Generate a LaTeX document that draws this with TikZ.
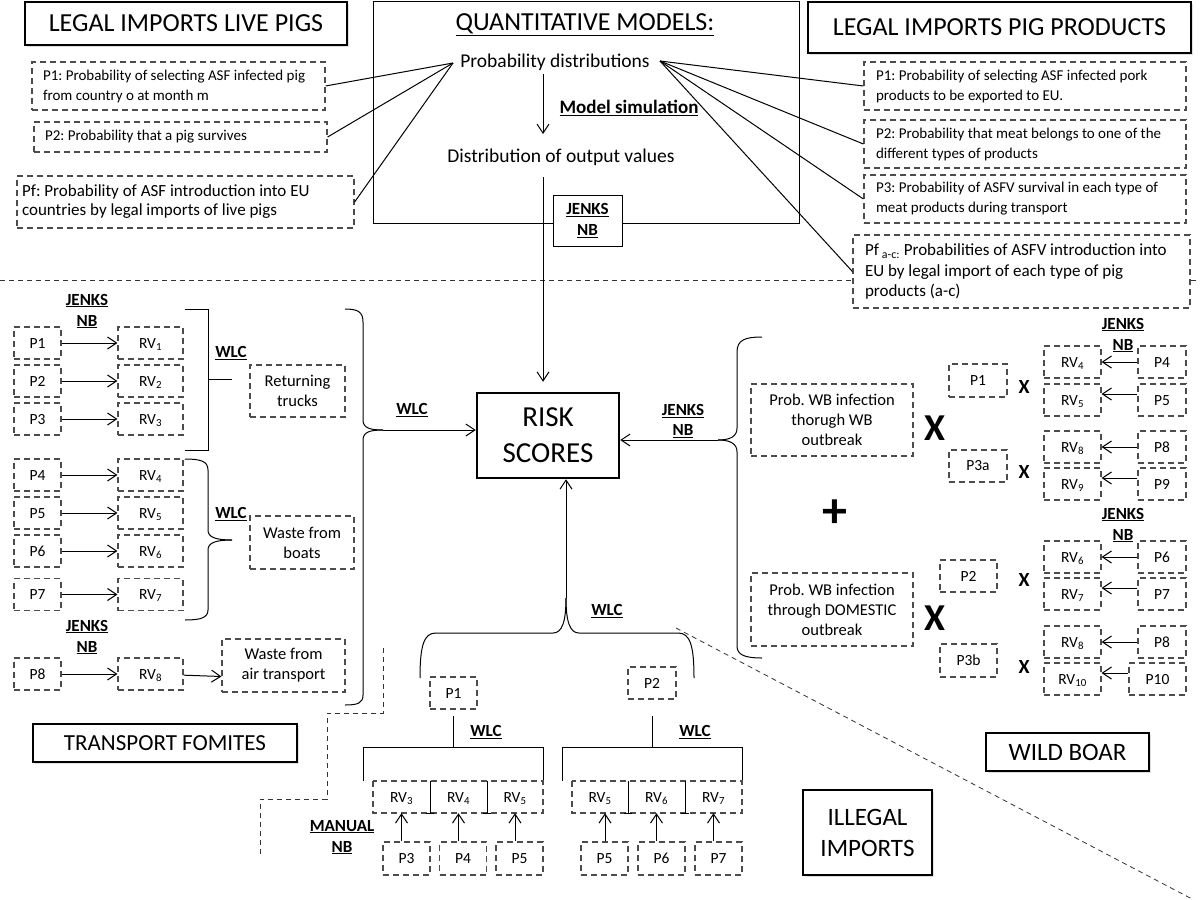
\documentclass[tikz,border=0pt]{standalone}
\usepackage{fontspec}
\setmainfont{Carlito}
\usetikzlibrary{arrows.meta,shadows}
\frenchspacing
\newcommand{\fsz}[2]{\fontsize{#1}{#2}\selectfont}
\newcommand{\uln}[1]{\underline{#1}}
\tikzset{
  dbx/.style={draw=black!70, dash pattern=on 6pt off 4pt, line width=1.2pt, inner sep=0pt, font=\fsz{15.5}{19}},
  pbx/.style={dbx, minimum width=47pt, minimum height=32pt, text height=10pt, text depth=0pt},
  rvb/.style={dbx, minimum width=65pt, minimum height=32pt, text height=10pt, text depth=0pt},
  wrv/.style={dbx, minimum width=57pt, minimum height=32pt, text height=10pt, text depth=0pt},
  wpb/.style={dbx, minimum width=48pt, minimum height=32pt, text height=10pt, text depth=0pt},
  txb/.style={dbx, align=flush left, font=\fsz{15}{20}},
  ttl/.style={draw=black, fill=white, line width=1.5pt, inner sep=0pt, font=\fsz{26}{31}, align=center, drop shadow={opacity=0.25, shadow xshift=2pt, shadow yshift=-2pt}},
  lbl/.style={font=\bfseries\fsz{17}{21}, align=center, inner sep=0pt},
  arr/.style={line width=1pt, -{Straight Barb[length=9pt, width=12pt, line width=1pt]}},
  con/.style={line width=1pt},
  sepl/.style={draw=black!80, dash pattern=on 5pt off 4pt, line width=1pt},
  bigx/.style={font=\bfseries\fsz{38}{40}, inner sep=0pt},
  smx/.style={font=\bfseries\fsz{20}{22}, inner sep=0pt},
  cell/.style={minimum width=57pt, minimum height=32pt, inner sep=0pt, font=\fsz{15.5}{19}, text height=10pt, text depth=0pt},
}
\begin{document}
\begin{tikzpicture}[x=1pt,y=-1pt]
\useasboundingbox[fill=white] (0,0) rectangle (1200,900);

% ---------- top section ----------
\node[ttl, minimum width=322pt, minimum height=43pt] (tLive) at (186,23.5) {LEGAL IMPORTS LIVE PIGS};
\node[ttl, minimum width=383pt, minimum height=51pt] (tProd) at (999.5,27.5) {LEGAL IMPORTS PIG PRODUCTS};

\node[draw, line width=1pt, minimum width=426pt, minimum height=222pt, inner sep=0pt] (qm) at (586,112) {};
\node[font=\fsz{26}{30}, inner sep=0pt] (qmt) at (585,25) {\uln{QUANTITATIVE MODELS:}};
\node[font=\fsz{19.5}{24}, inner sep=1pt] (pd) at (555,62) {Probability distributions};
\node[font=\fsz{19.5}{24}, inner sep=1pt] (dov) at (561,157) {Distribution of output values};
\node[font=\bfseries\fsz{19}{24}, inner sep=0pt] (ms) at (629,108) {\uln{Model simulation}};
\coordinate (ms1) at (543,74);
\coordinate (ms2) at (543,134);
\draw[arr] (ms1) -- (ms2);

\node[draw, fill=white, line width=1pt, minimum width=69pt, minimum height=51pt, lbl, inner sep=0pt] (jb) at (587.5,220.5) {\uln{JENKS}\\\uln{NB}};

\node[txb, text width=271pt, inner xsep=11pt, minimum height=48pt] (lp1) at (178.5,86) {P1: Probability of selecting ASF infected pig\\from country o at month m};
\node[txb, text width=271pt, inner xsep=11pt, minimum height=30pt] (lp2) at (180.5,137) {P2: Probability that a pig survives};
\node[txb, text width=327pt, inner xsep=5pt, minimum height=52pt, font=\fsz{17}{19}] (lpf) at (185.5,202) {Pf: Probability of ASF introduction into EU\\countries by legal imports of live pigs};

\node[txb, text width=298pt, inner xsep=12pt, minimum height=48pt] (rp1) at (1025,86) {P1: Probability of selecting ASF infected pork\\products to be exported to EU.};
\node[txb, text width=298pt, inner xsep=12pt, minimum height=48pt] (rp2) at (1025,144) {P2: Probability that meat belongs to one of the\\different types of products};
\node[txb, text width=298pt, inner xsep=12pt, minimum height=48pt] (rp3) at (1025,199) {P3: Probability of ASFV survival in each type of\\meat products during transport};
\node[txb, text width=313pt, inner xsep=12pt, minimum height=73pt, font=\fsz{17}{20.5}] (rpf) at (1021.5,271.5) {Pf\,\textsubscript{a-c:} Probabilities of ASFV introduction into\\EU by legal import of each type of pig\\products (a-c)};

\coordinate (pdL) at (453,63);
\coordinate (pdR) at (660,61);
\draw[con] (pdL) -- (lp1.east);
\draw[con] (pdL) -- (lp2.east);
\draw[con] (pdL) -- (lpf.east);
\draw[con] (pdR) -- (rp1.west);
\draw[con] (pdR) -- (rp2.west);
\draw[con] (pdR) -- (rp3.west);
\draw[con] (pdR) -- (rpf.west);

\coordinate (sepL) at (0,280);
\coordinate (sepR) at (1200,280);
\draw[sepl] (sepL) -- (rpf.west |- sepL);
\draw[sepl] (rpf.east |- sepR) -- (sepR);

% ---------- risk scores ----------
\node[draw, line width=2.5pt, minimum width=142pt, minimum height=85pt, inner sep=0pt, font=\fsz{29}{36}, align=center] (rs) at (548,435.5) {RISK\\SCORES};
\coordinate (dv1) at (543,177);
\draw[arr] (dv1) -- ([xshift=-5pt,yshift=10pt]rs.north);

% ---------- transport fomites ----------
\node[lbl] (jn1) at (87,311) {\uln{JENKS}\\\uln{NB}};
\node[pbx] (a1) at (37.5,343) {P1};
\node[pbx] (a2) at (37.5,381) {P2};
\node[pbx] (a3) at (37.5,419) {P3};
\node[pbx] (a4) at (37.5,475) {P4};
\node[pbx] (a5) at (37.5,513) {P5};
\node[pbx] (a6) at (37.5,551) {P6};
\node[pbx] (a7) at (37.5,594.5) {P7};
\node[pbx] (a8) at (37.5,674) {P8};
\node[rvb] (r1) at (150.5,343) {RV\textsubscript{1}};
\node[rvb] (r2) at (150.5,381) {RV\textsubscript{2}};
\node[rvb] (r3) at (150.5,419) {RV\textsubscript{3}};
\node[rvb] (r4) at (150.5,475) {RV\textsubscript{4}};
\node[rvb] (r5) at (150.5,513) {RV\textsubscript{5}};
\node[rvb] (r6) at (150.5,551) {RV\textsubscript{6}};
\node[rvb] (r7) at (150.5,594.5) {RV\textsubscript{7}};
\node[rvb] (r8) at (150.5,674) {RV\textsubscript{8}};
\foreach \i in {1,...,8} {\draw[arr] (a\i) -- (r\i);}
\node[lbl] (jn2) at (87,637) {\uln{JENKS}\\\uln{NB}};

\draw[con] (185,309) -- (208,309) -- (208,450) -- (185,450);
\draw[con] (208,379) -- (232,379);
\node[lbl] (w1) at (231,353) {\uln{WLC}};
\node[dbx, minimum width=95pt, minimum height=52pt, align=center, font=\fsz{16.5}{20}] (rt) at (297.5,391) {Returning\\trucks};

\draw[con] (185,459) .. controls (200,459) and (208,461) .. (208,470) -- (208,530) .. controls (208,537) and (215,540) .. (232,540);
\draw[con] (232,540) .. controls (215,540) and (208,543) .. (208,550) -- (208,610) .. controls (208,618) and (200,620) .. (185,620);
\node[lbl] (w2) at (231,514) {\uln{WLC}};
\node[dbx, minimum width=104pt, minimum height=53pt, align=center, font=\fsz{16.5}{20}] (wbt) at (302,542.5) {Waste from\\boats};
\node[dbx, minimum width=123pt, minimum height=53pt, align=center, font=\fsz{16.5}{20}] (wat) at (283.5,665.5) {Waste from\\air transport};
\draw[arr] (r8) -- ([yshift=-11pt]wat.west);

\coordinate (tipL) at (383,430);
\draw[con] (345,309) .. controls (358,309) and (363,312) .. (363,322) -- (363,420) .. controls (363,428) and (370,430) .. (tipL);
\draw[con] (tipL) .. controls (370,430) and (363,432) .. (363,440) -- (363,695) .. controls (363,703) and (358,705) .. (345,705);
\node[lbl] (w3) at (412,410) {\uln{WLC}};
\draw[arr] (tipL) -- (rs.west |- tipL);

\draw[sepl] (383,648) -- (383,713) -- (327,713) -- (327,799) -- (260,799) -- (260,855);
\node[ttl, font=\fsz{23}{28}, minimum width=264pt, minimum height=38pt] (tf) at (165,743) {TRANSPORT FOMITES};

% ---------- illegal imports ----------
\coordinate (tipB) at (566,598);
\draw[con] (420,678) .. controls (420,645) and (424,633) .. (436,633) -- (553,633) .. controls (562,633) and (566,622) .. (tipB);
\draw[con] (694,678) .. controls (694,645) and (690,633) .. (678,633) -- (579,633) .. controls (570,633) and (566,622) .. (tipB);
\draw[arr] (tipB) -- (rs.south -| tipB);
\node[lbl] (w4) at (607,611) {\uln{WLC}};

\node[pbx] (bp1) at (453.5,693) {P1};
\node[pbx, minimum width=48pt] (bp2) at (652,683) {P2};
\coordinate (h1) at (453.5,747);
\coordinate (h2) at (652,747);
\draw[con] ([yshift=-6pt]bp1.south) -- (h1);
\draw[con] ([yshift=-16pt]bp2.south) -- (h2);
\draw[con] (363,781) -- (363,747) -- (543,747) -- (543,781);
\draw[con] (562,781) -- (562,747) -- (742,747) -- (742,781);
\node[lbl] (w5) at (486,732) {\uln{WLC}};
\node[lbl] (w6) at (695,732) {\uln{WLC}};

\node[cell] (c3) at (401.5,797) {RV\textsubscript{3}};
\node[cell] (c4) at (458.5,797) {RV\textsubscript{4}};
\node[cell] (c5) at (515,797) {RV\textsubscript{5}};
\draw[dbx] (373,781) rectangle (543,813);
\draw[con] (430,781) -- (430,813) (426,813) -- (434,813);
\draw[con] (487,781) -- (487,813) (483,813) -- (491,813);
\node[cell] (d5) at (600,797) {RV\textsubscript{5}};
\node[cell] (d6) at (656.5,797) {RV\textsubscript{6}};
\node[cell] (d7) at (713.5,797) {RV\textsubscript{7}};
\draw[dbx] (572,781) rectangle (742,813);
\draw[con] (628,781) -- (628,813) (624,813) -- (632,813);
\draw[con] (685,781) -- (685,813) (681,813) -- (689,813);

\node[pbx, minimum height=33pt] (q3) at (406.5,858.5) {P3};
\node[pbx, minimum height=33pt] (q4) at (463,858.5) {P4};
\node[pbx, minimum height=33pt] (q5) at (519.5,858.5) {P5};
\node[pbx, minimum height=33pt] (s5) at (604.5,858.5) {P5};
\node[pbx, minimum height=33pt] (s6) at (661.5,858.5) {P6};
\node[pbx, minimum height=33pt] (s7) at (718.5,858.5) {P7};
\draw[arr] (c3.south |- q3.north) -- (c3.south);
\draw[arr] (c4.south |- q4.north) -- (c4.south);
\draw[arr] (c5.south |- q5.north) -- (c5.south);
\draw[arr] ([xshift=5pt]d5.south |- s5.north) -- ([xshift=5pt]d5.south);
\draw[arr] (d6.south |- s6.north) -- (d6.south);
\draw[arr] (d7.south |- s7.north) -- (d7.south);
\node[lbl] (mn) at (342,837) {\uln{MANUAL}\\\uln{NB}};

\node[ttl, minimum width=129pt, minimum height=85pt, font=\fsz{25}{31}] (ii) at (867.5,832.5) {ILLEGAL\\IMPORTS};

\draw[sepl, line width=0.8pt] (676,628) -- (1194,900);

% ---------- wild boar ----------
\node[ttl, minimum width=163pt, minimum height=38pt, font=\fsz{25}{30}] (wbo) at (1067.5,752) {WILD BOAR};

\coordinate (tipR) at (718,440);
\draw[con] (762,337) .. controls (745,337) and (737,340) .. (737,352) -- (737,428) .. controls (737,436) and (731,440) .. (tipR);
\draw[con] (tipR) .. controls (731,440) and (737,444) .. (737,452) -- (737,646) .. controls (737,655) and (745,658) .. (762,658);
\draw[arr] (tipR) -- (rs.east |- tipR);
\node[lbl, font=\bfseries\fsz{17}{20}] (jn3) at (683,421) {\uln{JENKS}\\\uln{NB}};

\node[dbx, minimum width=162pt, minimum height=72pt, align=center, font=\fsz{16.5}{20}] (wbA) at (832,420) {Prob. WB infection\\thorugh WB\\outbreak};
\node[dbx, minimum width=162pt, minimum height=73pt, align=center, font=\fsz{16.5}{20}] (wbB) at (832,609.5) {Prob. WB infection\\through DOMESTIC\\outbreak};
\node[bigx] (X1) at (935,428) {X};
\node[bigx] (X2) at (935,618) {X};
\node[font=\bfseries\fsz{50}{50}, inner sep=0pt] (plus) at (835,514) {+};

\node[dbx, minimum width=58pt, minimum height=33pt] (wp1) at (978,380.5) {P1};
\node[dbx, minimum width=58pt, minimum height=32pt] (wp3a) at (978,466) {P3a};
\node[dbx, minimum width=57pt, minimum height=32pt] (wp2) at (968.5,576) {P2};
\node[dbx, minimum width=57pt, minimum height=33pt] (wp3b) at (968.5,660.5) {P3b};
\node[smx] (x1) at (1024,387) {X};
\node[smx] (x2) at (1024,472) {X};
\node[smx] (x3) at (1024,580) {X};
\node[smx] (x4) at (1024,667) {X};

\node[lbl] (jn4) at (1123,335) {\uln{JENKS}\\\uln{NB}};
\node[lbl] (jn5) at (1123,525) {\uln{JENKS}\\\uln{NB}};

\node[wrv] (v4) at (1072.5,362) {RV\textsubscript{4}};
\node[wrv] (v5) at (1072.5,400) {RV\textsubscript{5}};
\node[wrv] (v8) at (1072.5,447) {RV\textsubscript{8}};
\node[wrv] (v9) at (1072.5,484) {RV\textsubscript{9}};
\node[wrv] (v6) at (1072.5,557) {RV\textsubscript{6}};
\node[wrv] (v7) at (1072.5,594) {RV\textsubscript{7}};
\node[wrv] (v8b) at (1072.5,642) {RV\textsubscript{8}};
\node[wrv] (v10) at (1072.5,679) {RV\textsubscript{10}};
\node[wpb] (p4) at (1162,362) {P4};
\node[wpb] (p5) at (1162,400) {P5};
\node[wpb] (p8) at (1162,447) {P8};
\node[wpb] (p9) at (1162,484) {P9};
\node[wpb] (p6) at (1162,557) {P6};
\node[wpb] (p7) at (1162,594) {P7};
\node[wpb] (p8b) at (1162,642) {P8};
\node[wpb, minimum width=57pt] (p10) at (1157.5,679) {P10};
\draw[arr] (p4) -- (v4);
\draw[arr] ([yshift=6pt]p5.west) -- ([yshift=6pt]v5.east);
\draw[arr] (p8) -- (v8);
\draw[arr] ([yshift=6pt]p9.west) -- ([yshift=6pt]v9.east);
\draw[arr] (p6) -- (v6);
\draw[arr] ([yshift=6pt]p7.west) -- ([yshift=6pt]v7.east);
\draw[arr] (p8b) -- (v8b);
\draw[arr] ([yshift=6pt]p10.west) -- ([yshift=6pt]v10.east);
\end{tikzpicture}
\end{document}
